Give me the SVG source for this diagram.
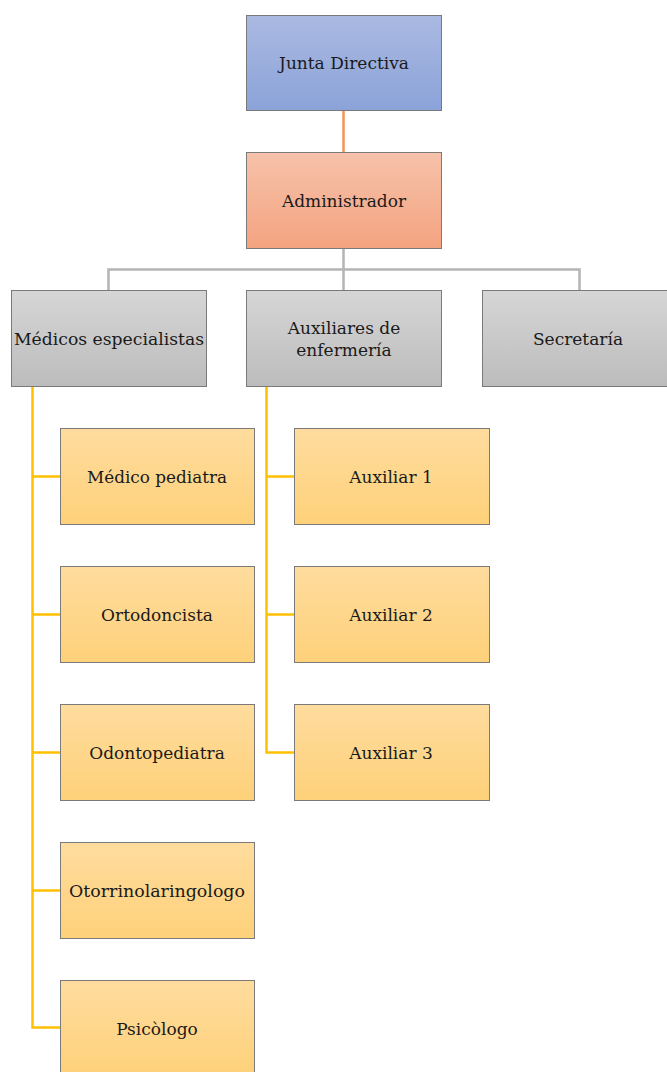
<svg xmlns="http://www.w3.org/2000/svg" width="667" height="1072" viewBox="0 0 667 1072">
<defs>
<linearGradient id="gBlue" x1="0" y1="0" x2="0" y2="1"><stop offset="0" stop-color="#aab9e1"/><stop offset="1" stop-color="#8ba3d9"/></linearGradient>
<linearGradient id="gOrange" x1="0" y1="0" x2="0" y2="1"><stop offset="0" stop-color="#f6c2aa"/><stop offset="1" stop-color="#f4a380"/></linearGradient>
<linearGradient id="gGray" x1="0" y1="0" x2="0" y2="1"><stop offset="0" stop-color="#d6d6d6"/><stop offset="1" stop-color="#bcbcbc"/></linearGradient>
<linearGradient id="gYellow" x1="0" y1="0" x2="0" y2="1"><stop offset="0" stop-color="#ffdc9e"/><stop offset="1" stop-color="#fed17a"/></linearGradient>
</defs>
<style>
.box{stroke:#7a7a7a;stroke-width:1}
text{font-family:'DejaVu Serif','Liberation Serif',serif;font-size:17px;fill:#1a1a1a;text-anchor:middle}
.c{fill:none;stroke-width:2.5}
</style>
<g id="connectors">
<line class="c" x1="343.5" y1="110" x2="343.5" y2="152" stroke="#f0965a"/>
<path class="c" d="M343.5 249 V269.5 M108.5 290 V269.5 H579.5 V290 M343.5 269.5 V290" stroke="#b4b4b4"/>
<path class="c" d="M32.5 386 V1027.5 H60 M32.5 476.5 H60 M32.5 614.5 H60 M32.5 752.5 H60 M32.5 890.5 H60" stroke="#ffc000"/>
<path class="c" d="M266.5 386 V752.5 H294 M266.5 476.5 H294 M266.5 614.5 H294" stroke="#ffc000"/>
</g>
<g id="junta"><rect class="box" x="246.5" y="15.5" width="195" height="95" fill="url(#gBlue)"/><text x="344" y="69">Junta Directiva</text></g>
<g id="admin"><rect class="box" x="246.5" y="152.5" width="195" height="96" fill="url(#gOrange)"/><text x="344" y="207">Administrador</text></g>
<g id="medicos"><rect class="box" x="11.5" y="290.5" width="195" height="96" fill="url(#gGray)"/><text x="109" y="345" textLength="190" lengthAdjust="spacingAndGlyphs">Médicos especialistas</text></g>
<g id="auxiliares"><rect class="box" x="246.5" y="290.5" width="195" height="96" fill="url(#gGray)"/><text x="344" y="334">Auxiliares de</text><text x="344" y="356">enfermería</text></g>
<g id="secretaria"><rect class="box" x="482.5" y="290.5" width="195" height="96" fill="url(#gGray)"/><text x="578" y="345">Secretaría</text></g>
<g id="pediatra"><rect class="box" x="60.5" y="428.5" width="194" height="96" fill="url(#gYellow)"/><text x="157" y="483" textLength="140" lengthAdjust="spacingAndGlyphs">Médico pediatra</text></g>
<g id="ortodoncista"><rect class="box" x="60.5" y="566.5" width="194" height="96" fill="url(#gYellow)"/><text x="157" y="621">Ortodoncista</text></g>
<g id="odontopediatra"><rect class="box" x="60.5" y="704.5" width="194" height="96" fill="url(#gYellow)"/><text x="157" y="759">Odontopediatra</text></g>
<g id="otorrino"><rect class="box" x="60.5" y="842.5" width="194" height="96" fill="url(#gYellow)"/><text x="157" y="897" textLength="176" lengthAdjust="spacingAndGlyphs">Otorrinolaringologo</text></g>
<g id="psicologo"><rect class="box" x="60.5" y="980.5" width="194" height="96" fill="url(#gYellow)"/><text x="157" y="1035">Psicòlogo</text></g>
<g id="aux1"><rect class="box" x="294.5" y="428.5" width="195" height="96" fill="url(#gYellow)"/><text x="391" y="483">Auxiliar 1</text></g>
<g id="aux2"><rect class="box" x="294.5" y="566.5" width="195" height="96" fill="url(#gYellow)"/><text x="391" y="621">Auxiliar 2</text></g>
<g id="aux3"><rect class="box" x="294.5" y="704.5" width="195" height="96" fill="url(#gYellow)"/><text x="391" y="759">Auxiliar 3</text></g>
</svg>
